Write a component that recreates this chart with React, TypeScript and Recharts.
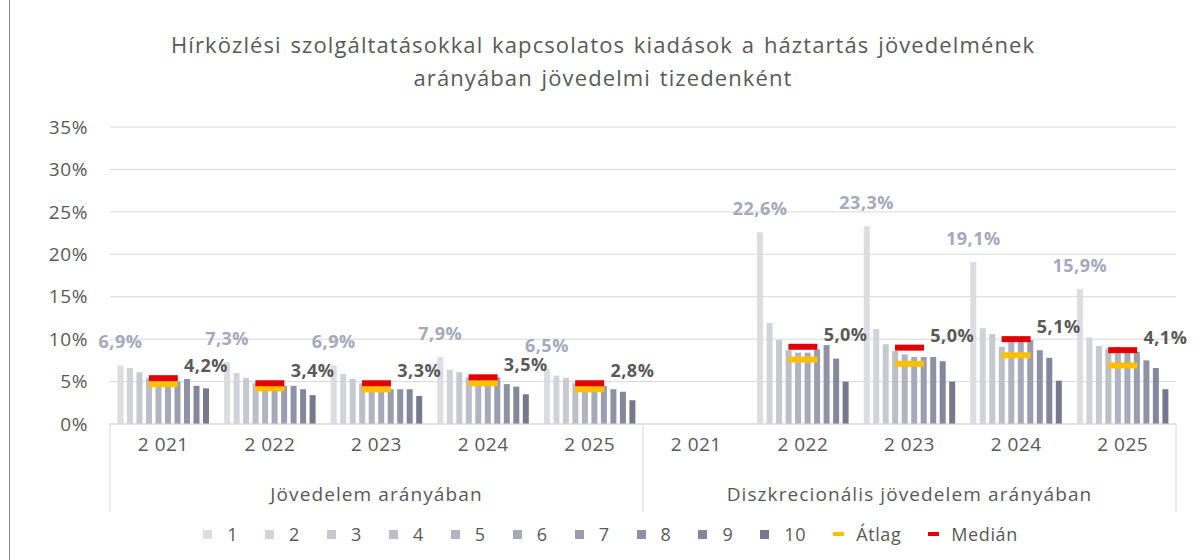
import React from 'react';
import { ComposedChart, Bar, Line, XAxis, YAxis, CartesianGrid, LabelList } from 'recharts';

const years = ['2021', '2022', '2023', '2024', '2025'];
const groups = ['Jövedelem arányában', 'Diszkrecionális jövedelem arányában'];
const deciles = ['1', '2', '3', '4', '5', '6', '7', '8', '9', '10'];

// share of household income, % (one row per year, one column per decile)
const incomeShare = [
  [6.9, 6.6, 6.1, 5.4, 5.3, 5.2, 5.0, 5.3, 4.5, 4.2],
  [7.3, 6.0, 5.4, 4.8, 4.7, 4.6, 4.5, 4.5, 4.1, 3.4],
  [6.9, 5.9, 5.3, 4.8, 4.7, 4.5, 4.1, 4.1, 4.1, 3.3],
  [7.9, 6.4, 6.1, 5.5, 5.4, 5.6, 5.5, 4.7, 4.4, 3.5],
  [6.5, 5.7, 5.4, 4.8, 4.7, 4.6, 4.5, 4.1, 3.8, 2.8],
];
const incomeAvg = [4.7, 4.2, 4.1, 4.8, 4.1];
const incomeMedian = [5.4, 4.8, 4.8, 5.5, 4.8];

// share of discretionary income, % (no data for 2021)
const discShare = [
  null,
  [22.6, 11.9, 9.9, 8.7, 8.4, 8.4, 8.8, 9.3, 7.7, 5.0],
  [23.3, 11.2, 9.4, 8.6, 8.2, 7.9, 7.9, 7.9, 7.4, 5.0],
  [19.1, 11.3, 10.6, 9.1, 9.9, 9.9, 9.9, 8.7, 7.8, 5.1],
  [15.9, 10.2, 9.2, 8.9, 9.1, 8.7, 8.5, 7.5, 6.6, 4.1],
];
const discAvg = [null, 7.6, 7.1, 8.1, 6.9];
const discMedian = [null, 9.1, 9.0, 10.0, 8.7];

const yTicks = [0, 5, 10, 15, 20, 25, 30, 35];

const decileColors = [
  '#dcdce1', '#d2d3d9', '#c7c8d0', '#bcbec8', '#b1b3c0',
  '#a6a9b8', '#9a9daf', '#8f92a5', '#84879b', '#76798d',
];
const AVG_COLOR = '#ffc000';
const MEDIAN_COLOR = '#e20000';
const TEXT = '#595959';

const W = 1200;
const H = 560;
const M = { top: 127, right: 24, bottom: 46, left: 0 };
const Y_W = 110;

const shares = [incomeShare, discShare];
const avgs = [incomeAvg, discAvg];
const medians = [incomeMedian, discMedian];

const rows = groups.flatMap((g, gi) =>
  years.map((y, yi) => {
    const vals = shares[gi][yi];
    const row: any = { key: `${gi}-${y}`, year: y, group: g, gi, yi, avg: avgs[gi][yi], median: medians[gi][yi] };
    deciles.forEach((d, di) => {
      row[`d${d}`] = vals ? vals[di] : null;
    });
    return row;
  })
);

const halfBand = (W - M.left - M.right - Y_W) / rows.length / 2;
const fmt = (v: number) => `${v.toFixed(1).replace('.', ',')}%`;
const fmtYear = (y: string) => `${y.slice(0, 1)} ${y.slice(1)}`;

const CatTick = (props: any) => {
  const { x, y, payload } = props;
  const row = rows.find((r) => r.key === payload.value);
  if (!row) return null;
  const last = row.gi === groups.length - 1 && row.yi === years.length - 1;
  return (
    <g>
      <text x={x} y={y + 19} textAnchor="middle" fill={TEXT} fontSize={19} letterSpacing={0.5}>
        {fmtYear(row.year)}
      </text>
      {row.yi === 0 && <line x1={x - halfBand} x2={x - halfBand} y1={y - 8} y2={y + 80} stroke="#d9d9d9" />}
      {last && <line x1={x + halfBand} x2={x + halfBand} y1={y - 8} y2={y + 80} stroke="#d9d9d9" />}
      {row.yi === 2 && (
        <text x={x} y={y + 69} textAnchor="middle" fill={TEXT} fontSize={19} letterSpacing={1.1}>
          {row.group}
        </text>
      )}
    </g>
  );
};

const boxOf = (p: any) => {
  const vb = p.viewBox || {};
  return {
    x: p.x ?? vb.x,
    y: p.y ?? vb.y,
    width: p.width ?? vb.width,
    height: p.height ?? vb.height,
  };
};

const FirstLabel = (p: any) => {
  if (p.value == null) return null;
  const b = boxOf(p);
  return (
    <text x={b.x + b.width / 2} y={b.y - 17} textAnchor="middle" fill="#a5a9bc" fontSize={18} fontWeight="bold" letterSpacing={0.5}>
      {fmt(p.value)}
    </text>
  );
};

// label of the 10th decile, set just above the median marker
const LastLabel = (p: any) => {
  const row = rows.find((r) => r.key === p.value);
  if (!row || row.d10 == null) return null;
  const b = boxOf(p);
  const base = b.y + b.height;
  const pxPer = b.height / row.d10;
  const my = base - row.median * pxPer;
  return (
    <text x={b.x + b.width / 2} y={my - 6} textAnchor="middle" fill={TEXT} fontSize={18} fontWeight="bold" letterSpacing={0.5}>
      {fmt(row.d10)}
    </text>
  );
};

const dash = (color: string, name: string) => (p: any) => {
  const { cx, cy, index } = p;
  if (cy == null || isNaN(cy)) return <g key={`${name}-${index}`} />;
  return <rect key={`${name}-${index}`} x={cx - 14.5} y={cy - 3} width={29} height={6} fill={color} />;
};

const legendItems = [
  ...deciles.map((d, i) => ({ name: d, color: decileColors[i], kind: 'square' })),
  { name: 'Átlag', color: AVG_COLOR, kind: 'dash' },
  { name: 'Medián', color: MEDIAN_COLOR, kind: 'dash' },
];

export default function App() {
  return (
    <div
      style={{
        position: 'absolute',
        left: 0,
        top: 0,
        width: W,
        height: H,
        background: '#fff',
        fontFamily: '"Open Sans", sans-serif',
      }}
    >
      <div style={{ position: 'absolute', left: 9, top: 0, width: 1, height: H, background: '#8c8c8c' }} />
      <div
        style={{
          position: 'absolute',
          left: 0,
          top: 28,
          width: 1206,
          textAlign: 'center',
          color: TEXT,
          fontSize: 22,
          letterSpacing: 1.1,
          wordSpacing: 2,
          lineHeight: '33px',
        }}
      >
        Hírközlési szolgáltatásokkal kapcsolatos kiadások a háztartás jövedelmének
        <br />
        arányában jövedelmi tizedenként
      </div>
      <ComposedChart width={W} height={H} data={rows} margin={M} barCategoryGap={7.5} barGap={3.5}>
        <CartesianGrid vertical={false} stroke="#d9d9d9" />
        <XAxis
          dataKey="key"
          interval={0}
          height={90}
          tickLine={false}
          axisLine={{ stroke: '#d9d9d9' }}
          tick={<CatTick />}
        />
        <YAxis
          type="number"
          domain={[0, 35]}
          ticks={yTicks}
          width={Y_W}
          axisLine={false}
          tickLine={false}
          tickMargin={16}
          tickFormatter={(v: number) => `${v}%`}
          tick={{ fill: TEXT, fontSize: 19, letterSpacing: 0.6 }}
        />
        {deciles.map((d, i) => (
          <Bar key={d} dataKey={`d${d}`} fill={decileColors[i]} isAnimationActive={false}>
            {i === 0 ? <LabelList dataKey={`d${d}`} content={<FirstLabel />} /> : null}
            {i === deciles.length - 1 ? (
              <LabelList dataKey={(r: any) => r.key} content={<LastLabel />} />
            ) : null}
          </Bar>
        ))}
        <Line dataKey="avg" stroke="none" dot={dash(AVG_COLOR, 'avg')} activeDot={false} isAnimationActive={false} />
        <Line dataKey="median" stroke="none" dot={dash(MEDIAN_COLOR, 'med')} activeDot={false} isAnimationActive={false} />
      </ComposedChart>
      <div
        style={{
          position: 'absolute',
          left: 13,
          top: 522,
          width: 1222,
          display: 'flex',
          justifyContent: 'center',
          alignItems: 'center',
          color: TEXT,
          fontSize: 18,
          letterSpacing: 0.6,
        }}
      >
        {legendItems.map((it) => (
          <div key={it.name} style={{ display: 'flex', alignItems: 'center', marginRight: 27 }}>
            {it.kind === 'square' ? (
              <span style={{ width: 9, height: 9, background: it.color, marginRight: 15 }} />
            ) : (
              <span style={{ width: 11, height: 4, background: it.color, marginRight: 12 }} />
            )}
            <span>{it.name}</span>
          </div>
        ))}
      </div>
    </div>
  );
}
